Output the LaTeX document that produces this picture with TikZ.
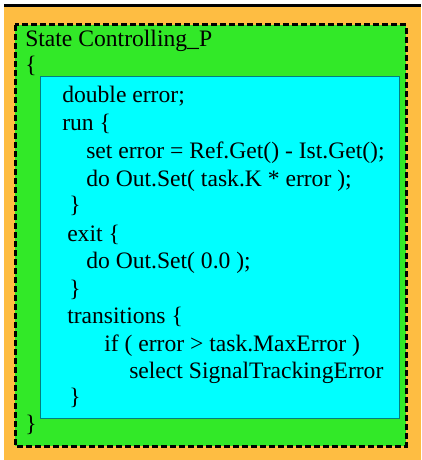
\documentclass[tikz,border=0pt]{standalone}
\usepackage{fontspec}
\setmainfont{Liberation Serif}
\definecolor{bgorange}{RGB}{254,189,66}
\definecolor{stgreen}{RGB}{50,233,40}
\definecolor{bodycyan}{RGB}{0,255,255}
\definecolor{bodyedge}{RGB}{0,128,128}
\tikzset{
  code/.style={anchor=base west, inner sep=0pt, font=\fontsize{17.7pt}{21pt}\selectfont},
  statebox/.style={draw=black, fill=stgreen, line width=2.25pt, dash pattern=on 4.5pt off 2.25pt},
  bodybox/.style={draw=bodyedge, fill=bodycyan, line width=0.75pt}
}
\begin{document}
\begin{tikzpicture}[x=0.75pt,y=-0.75pt]
\useasboundingbox (0,0) rectangle (421,460);
\fill[bgorange] (4,6) rectangle (421,460);
\draw[line width=2.25pt] (4,5.5) -- (421,5.5);
\draw[statebox] (15,25) rectangle (406,446);
\draw[bodybox] (40,77) rectangle (399,418);
\node[code] (title) at (25,46) {State Controlling\_P};
\node[code] (ob) at (25,73) {\{};
\node[code] (l1) at (62,102) {double error;};
\node[code] (l2) at (62,130) {run \{};
\node[code] (l3) at (86,158) {set error = Ref.Get() - Ist.Get();};
\node[code] (l4) at (86,186) {do Out.Set( task.K * error );};
\node[code] (l5) at (69,212) {\}};
\node[code] (l6) at (67,241) {exit \{};
\node[code] (l7) at (86,268) {do Out.Set( 0.0 );};
\node[code] (l8) at (69,296) {\}};
\node[code] (l9) at (67,323) {transitions \{};
\node[code] (l10) at (104,351) {if ( error > task.MaxError )};
\node[code] (l11) at (129,378) {select SignalTrackingError};
\node[code] (l12) at (69,404) {\}};
\node[code] (cb) at (25,431) {\}};
\end{tikzpicture}
\end{document}
